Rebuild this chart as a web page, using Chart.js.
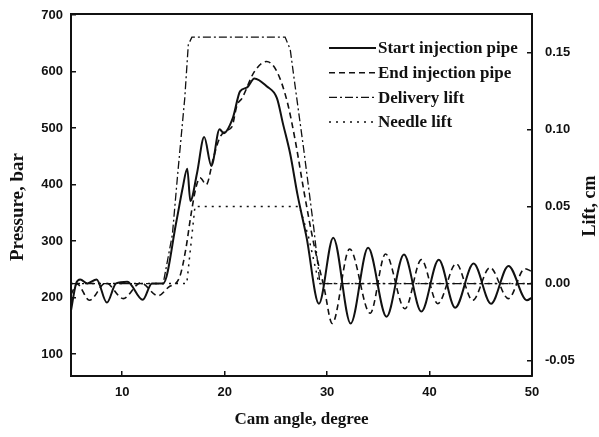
<!DOCTYPE html>
<html>
<head>
<meta charset="utf-8">
<script src="https://cdn.jsdelivr.net/npm/chart.js@4"></script>
<style>
  html, body { margin: 0; padding: 0; background: #fff; }
</style>
</head>
<body>
<canvas id="chart" width="599" height="437"></canvas>
<script>
// pressure traces (bar) vs cam angle (degree)
const startX = [5, 5.5, 5.9, 6.6, 7.5, 8.5, 9.4, 10.5, 12.0, 12.9, 14.0, 15.3, 15.9, 16.35, 16.65, 17.3, 18.0, 18.7, 19.5, 19.9, 20.8, 21.5, 22.2, 22.9, 24.1, 25.1, 25.7, 26.4, 27.1, 28.0, 29.2, 30.6, 32.3, 34.0, 35.8, 37.5, 39.2, 40.9, 42.5, 44.3, 46.0, 47.7, 49.5, 50];
const startP = [177, 225, 232, 225, 232, 191, 225, 228, 196, 225, 225, 336, 394, 428, 371, 420, 484, 433, 498, 491, 518, 565, 572, 588, 574, 553, 507, 454, 383, 306, 189, 306, 154, 288, 166, 276, 175, 267, 182, 260, 189, 256, 195, 200];

const endX = [5, 5.6, 6.8, 8.4, 10.1, 11.8, 13.5, 14.5, 15.6, 16.2, 16.7, 17.2, 17.6, 18.2, 18.9, 19.5, 20.1, 20.7, 21.2, 21.7, 22.9, 24.1, 25.1, 26.1, 26.9, 27.7, 28.7, 29.7, 30.5, 32.2, 34.2, 35.7, 37.6, 39.2, 40.8, 42.6, 44.2, 45.9, 47.7, 49.3, 50];
const endP = [205, 224, 195, 226, 198, 226, 203, 218, 236, 285, 345, 395, 412, 400, 447, 482, 495, 502, 540, 553, 600, 618, 600, 547, 477, 392, 295, 218, 154, 286, 172, 277, 180, 267, 189, 260, 195, 253, 198, 251, 246];

// lifts (cm)
const delivX = [5, 14.0, 14.9, 15.4, 16.1, 16.45, 16.8, 25.9, 26.4, 26.9, 27.7, 28.7, 29.3, 50];
const delivL = [0, 0, 0.032, 0.07, 0.12, 0.155, 0.16, 0.16, 0.152, 0.127, 0.088, 0.036, 0, 0];

const needleX = [5, 16.3, 16.7, 17.1, 27.3, 28.2, 29.2, 50];
const needleL = [0, 0, 0.025, 0.05, 0.05, 0.03, 0, 0];

const angleTicks = [10, 20, 30, 40, 50];
const pressureTicks = [100, 200, 300, 400, 500, 600, 700];
const liftTicks = [-0.05, 0, 0.05, 0.10, 0.15];

const pts = (xs, ys) => xs.map((x, i) => ({ x: x, y: ys[i] }));

const serif = '"Liberation Serif", "Times New Roman", serif';
const tickFont = { family: '"Liberation Sans", Arial, sans-serif', size: 13, weight: 'bold' };
const ink = '#111';

// legend inside the plot + vertical titles reading bottom-to-top
const extras = {
  id: 'extras',
  afterDraw(chart) {
    const { ctx, chartArea } = chart;
    ctx.save();
    ctx.font = 'bold 17px ' + serif;
    ctx.textBaseline = 'middle';
    chart.data.datasets.forEach((ds, i) => {
      const y = chartArea.top + 34 + i * 24.7;
      const x0 = chartArea.left + 258;
      ctx.beginPath();
      ctx.setLineDash(ds.borderDash || []);
      ctx.lineWidth = ds.borderWidth;
      ctx.strokeStyle = ds.borderColor;
      ctx.moveTo(x0, y);
      ctx.lineTo(x0 + 47, y);
      ctx.stroke();
      ctx.setLineDash([]);
      ctx.fillStyle = ink;
      ctx.fillText(ds.label, x0 + 49, y + 1);
    });
    ctx.textAlign = 'center';
    const vtitle = (text, x, y, size) => {
      ctx.save();
      ctx.font = 'bold ' + size + 'px ' + serif;
      ctx.translate(x, y);
      ctx.rotate(-Math.PI / 2);
      ctx.fillText(text, 0, 0);
      ctx.restore();
    };
    vtitle('Pressure, bar', 18, 207, 19);
    vtitle('Lift, cm', 590, 206, 18);
    ctx.restore();
  }
};

new Chart(document.getElementById('chart'), {
  type: 'line',
  data: {
    datasets: [
      { label: 'Start injection pipe', data: pts(startX, startP), borderColor: ink, borderWidth: 2, cubicInterpolationMode: 'monotone', yAxisID: 'y' },
      { label: 'End injection pipe', data: pts(endX, endP), borderColor: ink, borderWidth: 1.6, borderDash: [6, 4], cubicInterpolationMode: 'monotone', yAxisID: 'y' },
      { label: 'Delivery lift', data: pts(delivX, delivL), borderColor: ink, borderWidth: 1.3, borderDash: [8, 3, 2, 3], tension: 0, yAxisID: 'y1' },
      { label: 'Needle lift', data: pts(needleX, needleL), borderColor: ink, borderWidth: 1.5, borderDash: [2, 5], tension: 0, yAxisID: 'y1' }
    ]
  },
  options: {
    responsive: false,
    animation: false,
    layout: { padding: 0 },
    elements: { point: { radius: 0 } },
    plugins: { legend: { display: false }, tooltip: { enabled: false } },
    scales: {
      x: {
        type: 'linear', position: 'bottom', min: 5, max: 50,
        afterBuildTicks: s => { s.ticks = angleTicks.map(v => ({ value: v })); },
        afterFit: s => { s.height = 61; s.paddingLeft = 0; s.paddingRight = 0; },
        grid: { drawOnChartArea: false, tickLength: -5, color: ink, lineWidth: 1.5 },
        border: { color: ink, width: 2 },
        ticks: { font: tickFont, color: ink, padding: 14, maxRotation: 0 },
        title: { display: true, text: 'Cam angle, degree', font: { family: serif, size: 17, weight: 'bold' }, color: ink, padding: { top: 0, bottom: 7 } }
      },
      xTop: {
        type: 'linear', position: 'top', min: 5, max: 50,
        afterFit: s => { s.height = 14; s.paddingLeft = 0; s.paddingRight = 0; },
        grid: { drawOnChartArea: false, drawTicks: false },
        border: { color: ink, width: 2 },
        ticks: { display: false }
      },
      y: {
        type: 'linear', position: 'left', min: 61, max: 702,
        afterBuildTicks: s => { s.ticks = pressureTicks.map(v => ({ value: v })); },
        afterFit: s => { s.width = 71; s.paddingTop = 0; s.paddingBottom = 0; },
        grid: { drawOnChartArea: false, tickLength: -5, color: ink, lineWidth: 1.5 },
        border: { color: ink, width: 2 },
        ticks: { font: tickFont, color: ink, padding: 13 }
      },
      y1: {
        type: 'linear', position: 'right', min: -0.06, max: 0.175,
        afterBuildTicks: s => { s.ticks = liftTicks.map(v => ({ value: v })); },
        afterFit: s => { s.width = 67; s.paddingTop = 0; s.paddingBottom = 0; },
        grid: { drawOnChartArea: false, tickLength: -5, color: ink, lineWidth: 1.5 },
        border: { color: ink, width: 2 },
        ticks: { font: tickFont, color: ink, padding: 18, callback: v => v.toFixed(2) }
      }
    }
  },
  plugins: [extras]
});
</script>
</body>
</html>
